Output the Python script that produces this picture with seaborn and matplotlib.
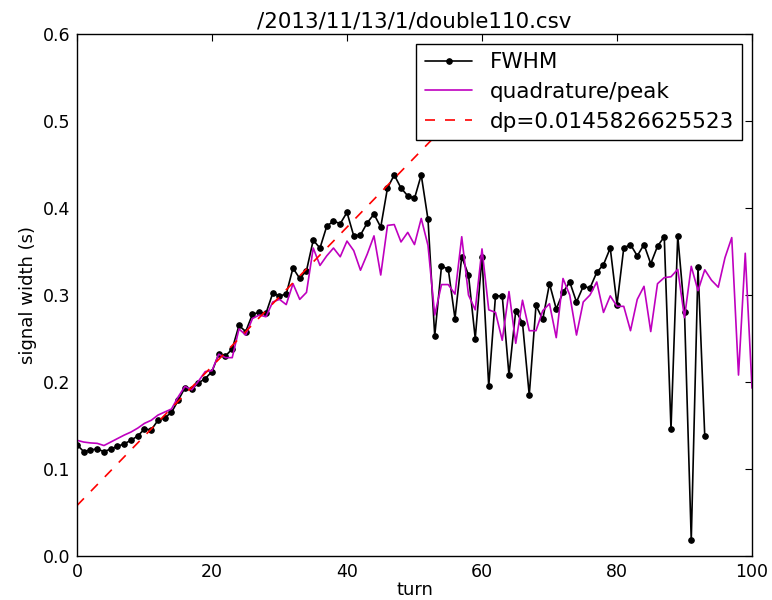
import matplotlib
matplotlib.use("Agg")
import matplotlib.pyplot as plt
import seaborn as sns
import numpy as np
import pandas as pd

title = "/2013/11/13/1/double110.csv"

# FWHM of the signal for each turn (turns 0..93)
fwhm = [0.128, 0.120, 0.122, 0.123, 0.120, 0.123, 0.126, 0.129, 0.133, 0.138,
        0.146, 0.145, 0.156, 0.159, 0.165, 0.179, 0.1935, 0.192, 0.199, 0.204,
        0.212, 0.232, 0.230, 0.238, 0.265, 0.258, 0.278, 0.280, 0.279, 0.302,
        0.299, 0.301, 0.331, 0.319, 0.328, 0.363, 0.354, 0.379, 0.385, 0.382,
        0.395, 0.368, 0.369, 0.383, 0.393, 0.378, 0.423, 0.438, 0.423, 0.414,
        0.411, 0.438, 0.387, 0.253, 0.333, 0.330, 0.273, 0.344, 0.323, 0.250,
        0.344, 0.195, 0.299, 0.299, 0.208, 0.282, 0.268, 0.185, 0.288, 0.272,
        0.313, 0.284, 0.303, 0.315, 0.292, 0.310, 0.308, 0.326, 0.335, 0.354,
        0.289, 0.354, 0.358, 0.345, 0.358, 0.336, 0.356, 0.367, 0.146, 0.368,
        0.280, 0.018, 0.332, 0.138]

# quadrature/peak width estimate for each turn (turns 0..100)
quad = [0.133, 0.131, 0.130, 0.1295, 0.127, 0.131, 0.135, 0.139, 0.1425, 0.147,
        0.1525, 0.156, 0.162, 0.1655, 0.169, 0.183, 0.195, 0.191, 0.201, 0.212,
        0.213, 0.232, 0.228, 0.228, 0.261, 0.254, 0.273, 0.277, 0.275, 0.292,
        0.295, 0.289, 0.313, 0.295, 0.303, 0.354, 0.334, 0.345, 0.354, 0.344,
        0.362, 0.351, 0.3285, 0.347, 0.368, 0.323, 0.380, 0.381, 0.361, 0.372,
        0.358, 0.388, 0.357, 0.277, 0.312, 0.312, 0.301, 0.367, 0.300, 0.283,
        0.353, 0.283, 0.280, 0.248, 0.304, 0.2445, 0.294, 0.259, 0.259, 0.282,
        0.290, 0.251, 0.319, 0.300, 0.254, 0.292, 0.300, 0.315, 0.280, 0.299,
        0.287, 0.287, 0.259, 0.295, 0.310, 0.258, 0.313, 0.320, 0.321, 0.3295,
        0.274, 0.333, 0.305, 0.329, 0.317, 0.309, 0.343, 0.366, 0.208, 0.348,
        0.193]

# linear fit of the rising part
fit_intercept = 0.058
fit_slope = 0.0080
fit_range = [0, 56]
fit_label = "dp=0.0145826625523"

df_fwhm = pd.DataFrame({"turn": np.arange(len(fwhm)), "width": fwhm})
df_quad = pd.DataFrame({"turn": np.arange(len(quad)), "width": quad})
fit_x = np.array(fit_range, dtype=float)
df_fit = pd.DataFrame({"turn": fit_x, "width": fit_intercept + fit_slope * fit_x})

sns.set_style("white")
plt.rcParams["font.family"] = ["DejaVu Sans"]
plt.rcParams["text.color"] = "black"
plt.rcParams["axes.labelcolor"] = "black"
plt.rcParams["xtick.direction"] = "in"
plt.rcParams["ytick.direction"] = "in"

fig = plt.figure(figsize=(7.72, 6.0), dpi=100)
ax = fig.add_axes([0.0997, 0.0733, 0.8744, 0.870])

sns.lineplot(data=df_fwhm, x="turn", y="width", ax=ax, color="black",
             marker="o", markersize=4, markeredgecolor="black",
             linewidth=1.2, label="FWHM")
sns.lineplot(data=df_quad, x="turn", y="width", ax=ax, color="#bf00bf",
             linewidth=1.2, label="quadrature/peak")
sns.lineplot(data=df_fit, x="turn", y="width", ax=ax, color="red",
             linestyle=(0, (6, 6)), linewidth=1.2, label=fit_label)

ax.set_xlim(0, 100)
ax.set_ylim(0, 0.6)
ax.set_xticks([0, 20, 40, 60, 80, 100])
ax.set_yticks([0.0, 0.1, 0.2, 0.3, 0.4, 0.5, 0.6])
ax.set_yticklabels(["0.0", "0.1", "0.2", "0.3", "0.4", "0.5", "0.6"])
ax.tick_params(axis="both", which="both", direction="in", length=5, width=0.8,
               top=True, right=True, labelsize=12.5, colors="black", pad=5)
for s in ax.spines.values():
    s.set_visible(True)
    s.set_color("black")
    s.set_linewidth(1.0)

ax.set_xlabel("turn", fontsize=13, labelpad=0)
ax.set_ylabel("signal width (s)", fontsize=13, labelpad=4)
ax.set_title(title, fontsize=15.4, pad=5)

leg = ax.legend(loc="upper right", fontsize=15.5, frameon=True, fancybox=False,
                framealpha=1, edgecolor="black", handlelength=2.2,
                borderaxespad=0.45, labelspacing=0.45, handletextpad=0.8)
leg.get_frame().set_linewidth(1.0)
for t in leg.get_texts():
    t.set_color("black")

fig.savefig("out.png", dpi=100)
